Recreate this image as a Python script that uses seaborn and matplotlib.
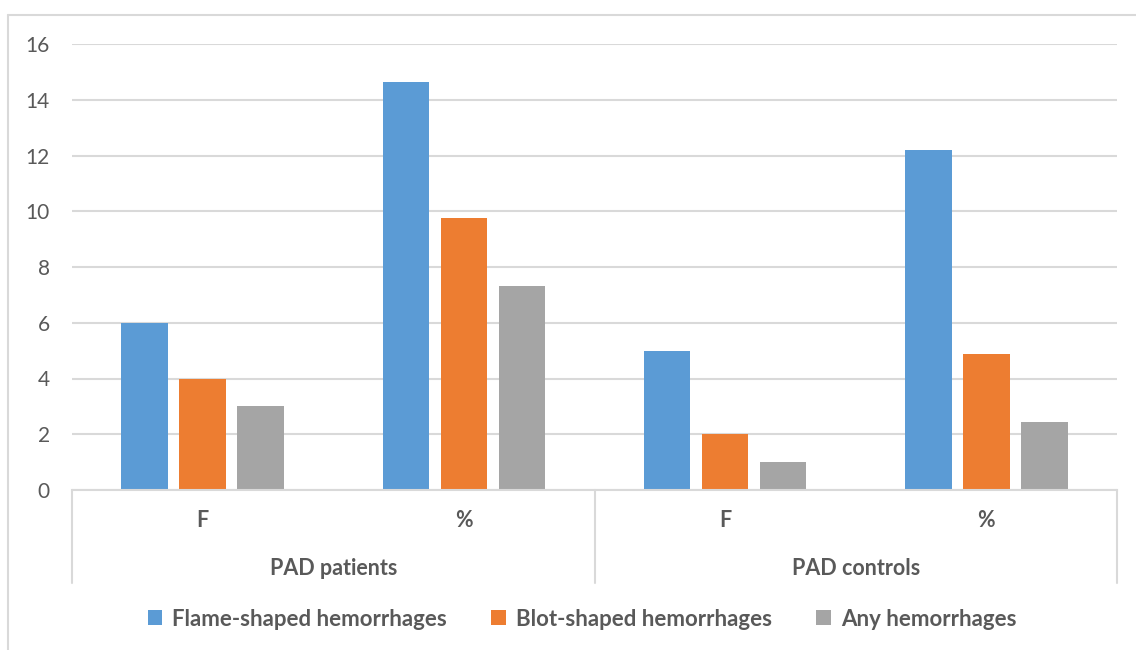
import matplotlib
matplotlib.use("Agg")
import matplotlib.pyplot as plt
from matplotlib.patches import Patch
from matplotlib.lines import Line2D
import seaborn as sns
import pandas as pd

# data
groups = ['PAD patients', 'PAD controls']
stats = ['F', '%']
series = ['Flame-shaped hemorrhages', 'Blot-shaped hemorrhages', 'Any hemorrhages']
flame = [6, 14.63, 5, 12.2]
blot = [4, 9.76, 2, 4.88]
any_h = [3, 7.32, 1, 2.44]
colors = ['#5B9BD5', '#ED7D31', '#A5A5A5']

cats = [g + '|' + s for g in groups for s in stats]
rows = []
for name, vals in zip(series, [flame, blot, any_h]):
    for c, v in zip(cats, vals):
        rows.append({'cat': c, 'value': v, 'series': name})
df = pd.DataFrame(rows)

sns.set_style('white')
plt.rcParams['font.family'] = ['Lato', 'DejaVu Sans']
text_col = '#595959'
grid_col = '#D9D9D9'

fig = plt.figure(figsize=(11.36, 6.5), dpi=100)
ax = fig.add_axes([72 / 1136, 160 / 650, (1117 - 72) / 1136, 446 / 650])

sns.barplot(data=df, x='cat', y='value', hue='series', order=cats,
            hue_order=series, palette=colors, width=0.667, gap=0.2,
            linewidth=0, saturation=1, legend=False, ax=ax)

ax.set_ylim(0, 16)
ax.set_xlim(-0.5, len(cats) - 0.5)
ax.set_yticks(range(0, 17, 2))
ax.yaxis.grid(True, color=grid_col, linewidth=1.5)
ax.set_axisbelow(True)
for s in ['top', 'right', 'left']:
    ax.spines[s].set_visible(False)
ax.spines['bottom'].set_color(grid_col)
ax.spines['bottom'].set_linewidth(1.5)
ax.tick_params(axis='y', length=0, pad=16, labelsize=15, labelcolor=text_col)
ax.set_xticks([])
ax.set_xlabel('')
ax.set_ylabel('')

# multi-level category axis
trans = ax.get_xaxis_transform()
for i, c in enumerate(cats):
    ax.text(i, -0.0695, c.split('|')[1], transform=trans, ha='center', va='center',
            fontsize=15.5, fontweight='bold', color=text_col)
for j, g in enumerate(groups):
    ax.text(j * 2 + 0.5, -0.175, g, transform=trans, ha='center', va='center',
            fontsize=15.5, fontweight='bold', color=text_col)
for x in [-0.5, 1.5, 3.5]:
    ax.add_line(Line2D([x, x], [0, -0.2085], transform=trans, color=grid_col,
                       linewidth=1.5, clip_on=False))

# legend
handles = [Patch(facecolor=c, edgecolor='none') for c in colors]
leg = fig.legend(handles, series, loc='center', bbox_to_anchor=(582 / 1136, 1 - 619 / 650),
                 ncol=3, frameon=False, handlelength=0.65, handleheight=0.65,
                 handletextpad=0.45, columnspacing=2.0,
                 prop={'size': 16, 'weight': 'bold'})
for t in leg.get_texts():
    t.set_color(text_col)

# outer chart border (left and top visible)
fig.add_artist(Line2D([8 / 1136, 8 / 1136], [0, 635 / 650], color=grid_col, linewidth=1.5))
fig.add_artist(Line2D([8 / 1136, 1], [635 / 650, 635 / 650], color=grid_col, linewidth=1.5))

fig.savefig('out.png', dpi=100)
